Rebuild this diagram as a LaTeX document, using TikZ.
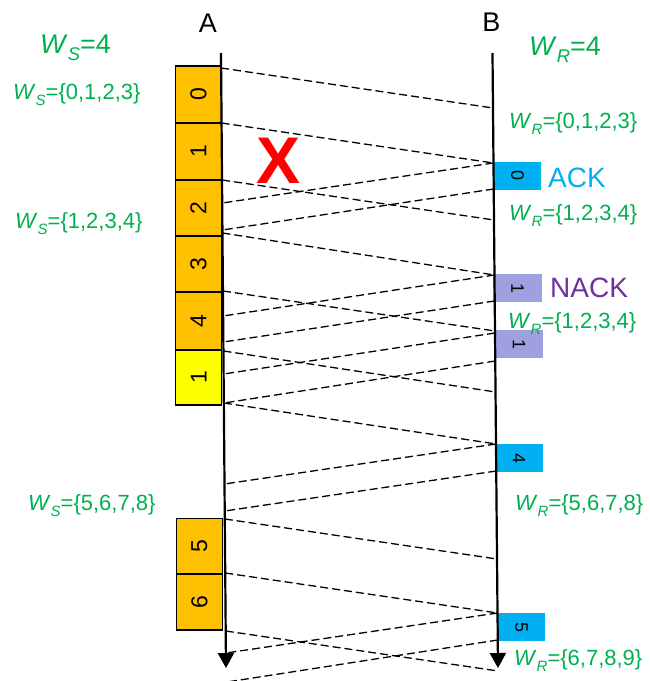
\documentclass[tikz,border=0pt]{standalone}
\usepackage{fontspec}
\setmainfont{Liberation Sans}
\usetikzlibrary{arrows.meta,calc}
\definecolor{wgreen}{HTML}{00B050}
\definecolor{orng}{HTML}{FFC000}
\definecolor{ylw}{HTML}{FFFF00}
\definecolor{cyn}{HTML}{00B0F0}
\definecolor{lav}{HTML}{A0A0E0}
\definecolor{purp}{HTML}{7030A0}
\newcommand\Wsb[1]{\textit{W}\raisebox{-0.28em}{\scalebox{0.68}{\textit{#1}}}}
\begin{document}
\begin{tikzpicture}[x=1pt,y=-1pt,
  lab/.style={font=\fontsize{22}{26}\selectfont, text=wgreen, inner sep=0, anchor=base west},
  biglab/.style={font=\fontsize{27}{31}\selectfont, text=wgreen, inner sep=0, anchor=base west},
  abox/.style={draw=black, line width=1.3pt, inner sep=0, minimum width=46pt, font=\fontsize{23}{26}\selectfont},
  bbox/.style={inner sep=0, minimum width=47pt, minimum height=28pt, font=\fontsize{18}{20}\selectfont},
  axis/.style={line width=2.2pt, -{Triangle[width=16pt,length=15pt]}},
  msg/.style={line width=1.3pt, dash pattern=on 8pt off 4pt}]
\useasboundingbox (0,0) rectangle (649,681);
% sender boxes
\node[abox, fill=orng, minimum height=57pt] (s0) at (198.4,94.5) {\rotatebox{90}{0}};
\node[abox, fill=orng, minimum height=57pt] (s1) at (198.4,151.5) {\rotatebox{90}{1}};
\node[abox, fill=orng, minimum height=56pt] (s2) at (198.4,208) {\rotatebox{90}{2}};
\node[abox, fill=orng, minimum height=56pt] (s3) at (198.4,264) {\rotatebox{90}{3}};
\node[abox, fill=orng, minimum height=58pt] (s4) at (198.4,321) {\rotatebox{90}{4}};
\node[abox, fill=ylw, minimum height=55pt] (s1r) at (198.6,377.5) {\rotatebox{90}{1}};
\node[abox, fill=orng, minimum height=55.5pt] (s5) at (199.3,546.3) {\rotatebox{90}{5}};
\node[abox, fill=orng, minimum height=56pt] (s6) at (199.5,602) {\rotatebox{90}{6}};
% receiver boxes
\node[bbox, fill=cyn] (r0) at (517.5,176) {\rotatebox{-90}{0}};
\node[bbox, fill=lav, minimum width=49pt] (r1) at (517.5,288) {\rotatebox{-90}{1}};
\node[bbox, fill=lav, minimum width=48pt] (r1b) at (519,344) {\rotatebox{-90}{1}};
\node[bbox, fill=cyn, minimum width=48pt] (r4) at (519,458) {\rotatebox{-90}{4}};
\node[bbox, fill=cyn] (r5) at (521.5,627) {\rotatebox{-90}{5}};
% axes
\coordinate (Atop) at (221,53);
\coordinate (Abot) at (226,668);
\coordinate (Btop) at (492.5,53);
\coordinate (Bbot) at (498,668);
\draw[axis] (Atop) -- (Abot);
\draw[axis] (Btop) -- (Bbot);
\node[font=\fontsize{27}{31}\selectfont, inner sep=0, anchor=base] (A) at (208,32) {A};
\node[font=\fontsize{27}{31}\selectfont, inner sep=0, anchor=base] (B) at (491.5,31) {B};
% points on the axes
\foreach \y in {68,123,180,203,230,233,291,316,342,351,374,403,484,511,519,573,631,653}
  \coordinate (a\y) at ($(Atop)!{(\y-53)/615}!(Abot)$);
\foreach \y in {108,163,189,220,275,301,331,333,361,392,444,471,559,613,640,671}
  \coordinate (b\y) at ($(Btop)!{(\y-53)/615}!(Bbot)$);
\coordinate (aend) at (227,682);
% frames A -> B
\draw[msg] (a68) -- (b108);
\draw[msg] (a123) -- (b163);
\draw[msg] (a180) -- (b220);
\draw[msg] (a233) -- (b275);
\draw[msg] (a291) -- (b331);
\draw[msg] (a351) -- (b392);
\draw[msg] (a403) -- (b444);
\draw[msg] (a519) -- (b559);
\draw[msg] (a573) -- (b613);
\draw[msg] (a631) -- (b671);
% replies B -> A
\draw[msg] (b163) -- (a203);
\draw[msg] (b189) -- (a230);
\draw[msg] (b275) -- (a316);
\draw[msg] (b301) -- (a342);
\draw[msg] (b333) -- (a374);
\draw[msg] (b361) -- (a403);
\draw[msg] (b444) -- (a484);
\draw[msg] (b471) -- (a511);
\draw[msg] (b613) -- (a653);
\draw[msg] (b640) -- (aend);
% lost frame
\node[font=\bfseries\fontsize{66}{70}\selectfont, text=red, inner sep=0] (lost) at (279,161) {X};
% labels
\node[biglab] (ws) at (40,53) {\Wsb{S}=4};
\node[lab] (ws0) at (13,99) {\Wsb{S}=\{0,1,2,3\}};
\node[lab] (ws1) at (15,228) {\Wsb{S}=\{1,2,3,4\}};
\node[lab] (ws5) at (28,510) {\Wsb{S}=\{5,6,7,8\}};
\node[biglab] (wr) at (529,55) {\Wsb{R}=4};
\node[lab] (wr0) at (509,128) {\Wsb{R}=\{0,1,2,3\}};
\node[lab] (wr1) at (509,220) {\Wsb{R}=\{1,2,3,4\}};
\node[lab] (wr1b) at (508,328) {\Wsb{R}=\{1,2,3,4\}};
\node[lab] (wr5) at (515,510) {\Wsb{R}=\{5,6,7,8\}};
\node[lab] (wr6) at (514,665) {\Wsb{R}=\{6,7,8,9\}};
\node[font=\fontsize{28}{32}\selectfont, text=cyn, inner sep=0, anchor=base west] (ack) at (548,187) {ACK};
\node[font=\fontsize{28}{32}\selectfont, text=purp, inner sep=0, anchor=base west] (nack) at (550,297) {NACK};
\end{tikzpicture}
\end{document}
